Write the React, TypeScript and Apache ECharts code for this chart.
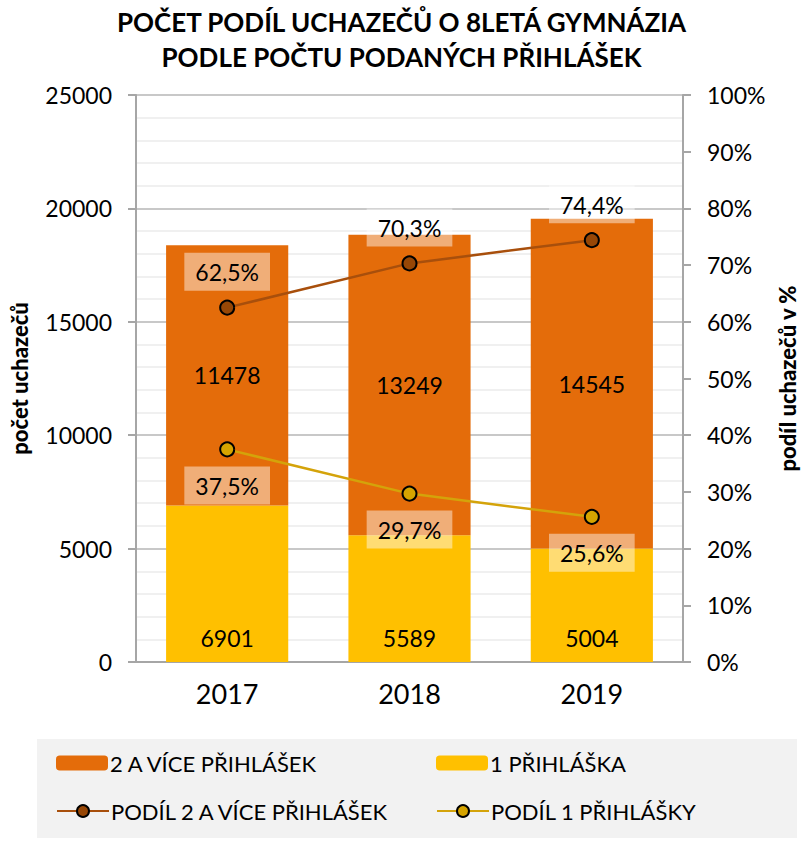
import React, { useEffect, useRef } from 'react';
import * as echarts from 'echarts';

const years = ['2017', '2018', '2019'];
const oneApp = [6901, 5589, 5004];
const multiApp = [11478, 13249, 14545];
const shareMulti = [62.5, 70.3, 74.4];
const shareOne = [37.5, 29.7, 25.6];

const NAME_MULTI = '2 A VÍCE PŘIHLÁŠEK';
const NAME_ONE = '1 PŘIHLÁŠKA';
const NAME_SHARE_MULTI = 'PODÍL 2 A VÍCE PŘIHLÁŠEK';
const NAME_SHARE_ONE = 'PODÍL 1 PŘIHLÁŠKY';

const FONT = 'Lato';
const ORANGE = '#E46C0A';
const YELLOW = '#FFC000';
const BROWN_LINE = '#A84F0C';
const BROWN_MARK = '#974706';
const GOLD_LINE = '#D4A30A';
const GOLD_MARK = '#D6A400';

export default function App() {
  const ref = useRef<HTMLDivElement>(null);
  useEffect(() => {
    document.body.style.margin = '0';
    if (!ref.current) return;
    const chart = echarts.init(ref.current, undefined, { renderer: 'svg' });
    const pctFmt = (p: any) => String(p.value).replace('.', ',') + '%';
    const pctLabel = (pos: string) => ({
      show: true,
      position: pos,
      distance: 9,
      formatter: pctFmt,
      fontFamily: FONT,
      fontSize: 23,
      color: '#000',
      backgroundColor: 'rgba(255,255,255,0.45)',
      padding: [8, 11, 7, 11],
    });
    const legendBase = (name: string, left: number, top: number) => ({
      data: [name],
      left,
      top,
      padding: 0,
      orient: 'horizontal',
      itemWidth: 52,
      itemHeight: 15,
      itemGap: 0,
      textStyle: { fontFamily: FONT, fontSize: 22, color: '#000', padding: [0, 0, 0, -3] },
      selectedMode: false,
    });
    const option: any = {
      animation: false,
      backgroundColor: '#fff',
      title: {
        text: 'POČET PODÍL UCHAZEČŮ O 8LETÁ GYMNÁZIA\nPODLE POČTU PODANÝCH PŘIHLÁŠEK',
        left: 'center',
        top: 2,
        padding: [2, 0, 0, 0],
        textStyle: {
          fontFamily: FONT,
          fontWeight: 'bold',
          fontSize: 26,
          lineHeight: 35,
          color: '#000',
        },
      },
      graphic: [
        {
          type: 'rect',
          z: -10,
          shape: { x: 37, y: 739, width: 760, height: 99 },
          style: { fill: '#F2F2F2' },
        },
      ],
      legend: [
        legendBase(NAME_MULTI, 56, 752),
        legendBase(NAME_ONE, 436, 752),
        legendBase(NAME_SHARE_MULTI, 56, 800),
        legendBase(NAME_SHARE_ONE, 436, 800),
      ],
      grid: { left: 136, right: 120, top: 95, bottom: 191, containLabel: false, outerBoundsMode: 'none' },
      xAxis: {
        type: 'category',
        data: years,
        axisLine: { lineStyle: { color: '#A6A6A6', width: 2 } },
        axisTick: { show: false },
        axisLabel: { fontFamily: FONT, fontSize: 27, color: '#000', margin: 18 },
      },
      yAxis: [
        {
          type: 'value',
          min: 0,
          max: 25000,
          interval: 5000,
          name: 'počet uchazečů',
          nameLocation: 'middle',
          nameGap: 106,
          nameTextStyle: { fontFamily: FONT, fontWeight: 900, fontSize: 22, color: '#000' },
          axisLine: { show: true, lineStyle: { color: '#A6A6A6', width: 2 } },
          axisTick: { show: true, length: 8, lineStyle: { color: '#A6A6A6', width: 2 } },
          axisLabel: {
            fontFamily: FONT,
            fontSize: 23,
            color: '#000',
            margin: 24,
            formatter: (v: number) => String(v),
          },
          splitLine: { lineStyle: { color: '#C8C8C8', width: 2 } },
          minorTick: { show: false, splitNumber: 5 },
          minorSplitLine: { show: true, lineStyle: { color: '#F0F0F0', width: 2 } },
        },
        {
          type: 'value',
          min: 0,
          max: 100,
          interval: 10,
          name: 'podíl uchazečů v %',
          nameLocation: 'middle',
          nameGap: 92,
          nameRotate: 90,
          nameTextStyle: { fontFamily: FONT, fontWeight: 900, fontSize: 22, color: '#000' },
          axisLine: { show: true, lineStyle: { color: '#A6A6A6', width: 2 } },
          axisTick: { show: true, length: 8, lineStyle: { color: '#A6A6A6', width: 2 } },
          axisLabel: { fontFamily: FONT, fontSize: 23, color: '#000', margin: 24, formatter: '{value}%' },
          splitLine: { show: false },
        },
      ],
      series: [
        {
          name: NAME_ONE,
          type: 'bar',
          stack: 'total',
          data: oneApp,
          barWidth: '67%',
          itemStyle: { color: YELLOW },
          label: {
            show: true,
            position: 'insideBottom',
            distance: 13,
            fontFamily: FONT,
            fontSize: 23,
            color: '#000',
          },
        },
        {
          name: NAME_MULTI,
          type: 'bar',
          stack: 'total',
          data: multiApp,
          barWidth: '67%',
          itemStyle: { color: ORANGE },
          label: {
            show: true,
            position: 'inside',
            fontFamily: FONT,
            fontSize: 23,
            color: '#000',
          },
        },
        {
          name: NAME_SHARE_MULTI,
          type: 'line',
          yAxisIndex: 1,
          data: shareMulti,
          symbol: 'circle',
          symbolSize: 14,
          lineStyle: { color: BROWN_LINE, width: 2.5 },
          itemStyle: { color: BROWN_MARK, borderColor: '#000', borderWidth: 2 },
          label: pctLabel('top'),
          z: 5,
        },
        {
          name: NAME_SHARE_ONE,
          type: 'line',
          yAxisIndex: 1,
          data: shareOne,
          symbol: 'circle',
          symbolSize: 14,
          lineStyle: { color: GOLD_LINE, width: 2.5 },
          itemStyle: { color: GOLD_MARK, borderColor: '#000', borderWidth: 2 },
          label: pctLabel('bottom'),
          z: 5,
        },
      ],
    };
    chart.setOption(option);
    return () => chart.dispose();
  }, []);
  return <div ref={ref} style={{ width: 803, height: 853 }} />;
}
